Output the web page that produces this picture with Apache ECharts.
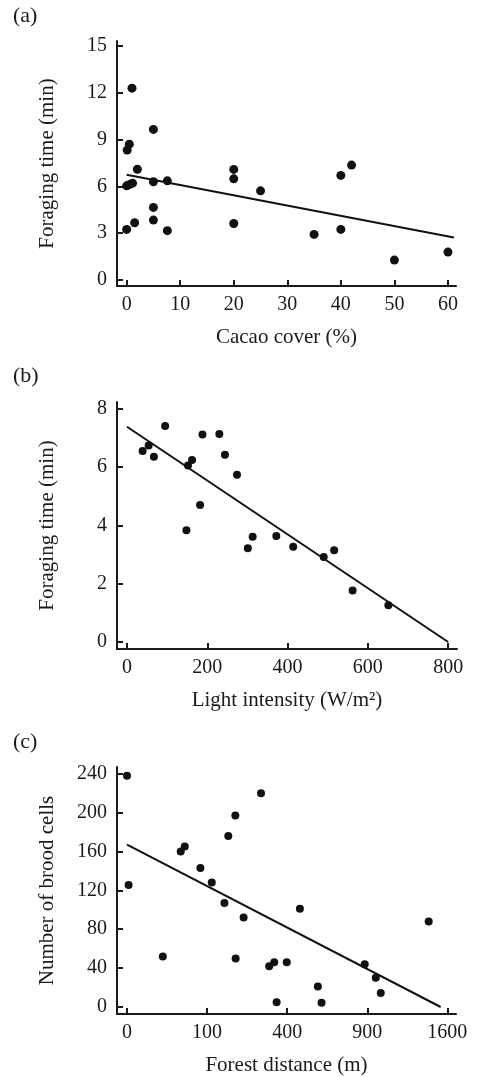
<!DOCTYPE html>
<html>
<head>
<meta charset="utf-8">
<script src="https://cdn.jsdelivr.net/npm/echarts@6/dist/echarts.min.js"></script>
<style>
  html, body { margin: 0; padding: 0; background: #fff; }
  #chart { width: 477px; height: 1077px; }
</style>
</head>
<body>
<div id="chart"></div>
<script>
// panel (a): cacao cover (%) vs foraging time (min)
const cacaoCover = [0, 0.1, 0.5, 0, 0.6, 1.1, 1, 1.5, 2, 5, 5, 5, 5, 7.6, 7.6, 20, 20, 20, 25, 35, 40, 40, 42, 50, 60];
const cacaoTime = [3.24, 8.32, 8.7, 6.03, 6.12, 6.2, 12.28, 3.67, 7.09, 9.64, 6.29, 4.65, 3.84, 6.35, 3.16, 7.08, 6.48, 3.62, 5.71, 2.92, 6.7, 3.24, 7.36, 1.28, 1.79];
const cacaoFitX = [0, 61.1];
const cacaoFitY = [6.74, 2.73];

// panel (b): light intensity (W/m2) vs foraging time (min)
const lightIntensity = [39, 54, 67, 95, 152, 162, 148, 182, 188, 230, 244, 274, 301, 313, 372, 414, 490, 516, 562, 651];
const lightTime = [6.56, 6.75, 6.36, 7.42, 6.06, 6.25, 3.84, 4.7, 7.12, 7.14, 6.43, 5.74, 3.22, 3.61, 3.64, 3.27, 2.92, 3.15, 1.77, 1.26];
const lightFitX = [0, 800];
const lightFitY = [7.39, 0];

// panel (c): forest distance (m) vs number of brood cells
const forestDist = [0, 0.04, 20, 45, 52, 84, 112, 148, 160, 183, 184, 212, 280, 315, 338, 349, 398, 466, 568, 590, 881, 965, 1004, 1419];
const broodCells = [238, 125.5, 52, 160, 165, 143, 128, 107, 176, 197, 50, 92, 220, 42, 46, 5, 46, 101, 21, 4.5, 44, 30, 14.5, 88];
const forestFitX = [0, 1534];
const forestFitY = [167, 0];

const xTicksA = [0, 10, 20, 30, 40, 50, 60];
const yTicksA = [0, 3, 6, 9, 12, 15];
const xTicksB = [0, 200, 400, 600, 800];
const yTicksB = [0, 2, 4, 6, 8];
const xTicksC = [0, 100, 400, 900, 1600];
const yTicksC = [0, 40, 80, 120, 160, 200, 240];

const FONT = "Liberation Serif";
const INK = "#1a1a1a";

function pairs(xs, ys, fx) {
  return xs.map((x, i) => [fx ? fx(x) : x, ys[i]]);
}

function xAxis(idx, min, max, ticks, name, fmt) {
  return {
    type: "value", gridIndex: idx, min: min, max: max,
    name: name, nameLocation: "middle", nameGap: 41,
    nameTextStyle: { fontFamily: FONT, fontSize: 21, color: INK },
    axisLine: { onZero: false, lineStyle: { color: INK, width: 2 } },
    axisTick: { inside: true, length: 6, customValues: ticks, lineStyle: { color: INK, width: 2 } },
    axisLabel: { customValues: ticks, margin: 9, fontFamily: FONT, fontSize: 20, color: INK,
      formatter: fmt || (v => String(v)) },
    splitLine: { show: false }
  };
}

function yAxis(idx, min, max, ticks, name) {
  return {
    type: "value", gridIndex: idx, min: min, max: max,
    name: name, nameLocation: "middle", nameGap: 59,
    nameTextStyle: { fontFamily: FONT, fontSize: 21, color: INK },
    axisLine: { onZero: false, lineStyle: { color: INK, width: 2 } },
    axisTick: { inside: true, length: 6, customValues: ticks, lineStyle: { color: INK, width: 2 } },
    axisLabel: { customValues: ticks, margin: 10, fontFamily: FONT, fontSize: 20, color: INK,
      formatter: v => String(v) },
    splitLine: { show: false }
  };
}

function scatter(idx, data, size) {
  return {
    type: "scatter", xAxisIndex: idx, yAxisIndex: idx, data: data,
    symbolSize: size, itemStyle: { color: "#111", opacity: 1 }, silent: true
  };
}

function fit(idx, data) {
  return {
    type: "line", xAxisIndex: idx, yAxisIndex: idx, data: data,
    symbol: "none", lineStyle: { color: "#111", width: 2 }, silent: true, z: 1
  };
}

const chart = echarts.init(document.getElementById("chart"), null, { renderer: "canvas" });

const panelTitle = (text, top) => ({
  text: text, left: 13, top: top, padding: 0,
  textStyle: { fontFamily: FONT, fontSize: 22, fontWeight: "normal", color: INK }
});

chart.setOption({
  animation: false,
  backgroundColor: "#fff",
  title: [panelTitle("(a)", 5), panelTitle("(b)", 365), panelTitle("(c)", 731)],
  grid: [
    { left: 117, right: 21, top: 41, height: 245 },
    { left: 117, right: 20, top: 402, height: 247 },
    { left: 117, right: 21, top: 767, height: 247 }
  ],
  xAxis: [
    xAxis(0, -1.8, 61.5, xTicksA, "Cacao cover (%)"),
    xAxis(1, -24.9, 822, xTicksB, "Light intensity (W/m²)"),
    xAxis(2, -1.25, 41.08, xTicksC.map(Math.sqrt), "Forest distance (m)", v => String(Math.round(v * v)))
  ],
  yAxis: [
    yAxis(0, -0.38, 15.3, yTicksA, "Foraging time (min)"),
    yAxis(1, -0.24, 8.24, yTicksB, "Foraging time (min)"),
    yAxis(2, -7.2, 246.9, yTicksC, "Number of brood cells")
  ],
  series: [
    fit(0, pairs(cacaoFitX, cacaoFitY)),
    scatter(0, pairs(cacaoCover, cacaoTime), 9),
    fit(1, pairs(lightFitX, lightFitY)),
    scatter(1, pairs(lightIntensity, lightTime), 8),
    fit(2, pairs(forestFitX, forestFitY, Math.sqrt)),
    scatter(2, pairs(forestDist, broodCells, Math.sqrt), 8)
  ]
});
</script>
</body>
</html>
